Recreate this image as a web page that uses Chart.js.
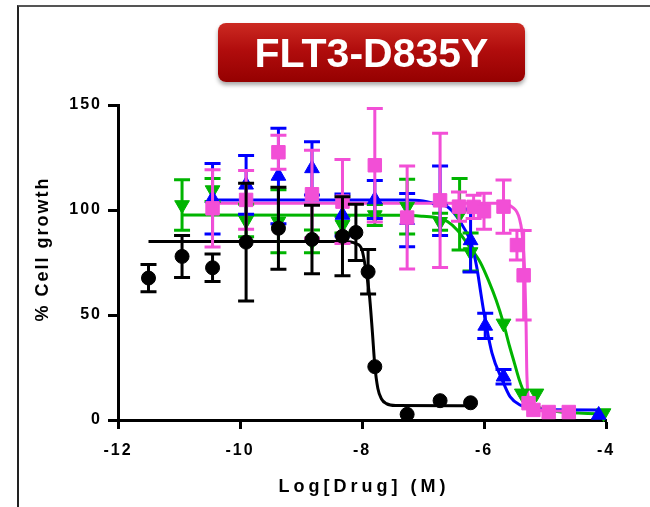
<!DOCTYPE html>
<html>
<head>
<meta charset="utf-8">
<title>FLT3-D835Y</title>
<script src="https://cdn.jsdelivr.net/npm/chart.js@4.4.0/dist/chart.umd.min.js"></script>
<style>
  html, body { margin: 0; padding: 0; background: #fff; }
  #wrap { position: relative; width: 650px; height: 507px; overflow: hidden; }
  #frame { position: absolute; left: 17px; top: 5px; width: 640px; height: 510px;
           border-top: 2px solid #555; border-left: 2px solid #222; }
  #myChart { position: absolute; left: 0; top: 0; }
  #titleBox { position: absolute; left: 218px; top: 23px; width: 307px; height: 59px;
              border-radius: 8px; background: linear-gradient(#cc2a22, #b10d0d 45%, #950000);
              box-shadow: 0 3px 4px rgba(0,0,0,0.35); color: #fff; text-align: center;
              font: bold 41px Arial, "Liberation Sans", sans-serif; line-height: 60px; }
</style>
</head>
<body>
<div id="wrap">
  <div id="frame"></div>
  <canvas id="myChart" width="650" height="507"></canvas>
  <div id="titleBox">FLT3-D835Y</div>
</div>
<script>
// axis ticks and titles
const xTicks = [-12, -10, -8, -6, -4];
const yTicks = [0, 50, 100, 150];
const xTitle = 'Log[Drug] (M)';
const yTitle = '% Cell growth';

// measured points (mean, +/- error)
const blackX = [-11.5, -10.95, -10.45, -9.9, -9.37, -8.82, -8.32, -8.1, -7.9, -7.79, -7.26, -6.72, -6.22];
const blackY = [67.6, 77.9, 72.5, 84.7, 91.3, 86, 87.5, 89.3, 70.6, 25.4, 2.7, 9.2, 8.2];
const blackErr = [6.5, 10, 6.6, 28, 19.5, 16.3, 18.8, 13.4, 10.6, 0, 0, 0, 0];

const blueX = [-10.45, -9.9, -9.37, -8.82, -8.32, -7.79, -7.26, -6.72, -6.22, -5.98, -5.68, -4.12];
const blueY = [105.4, 112, 116.2, 119.8, 97.6, 105, 95.2, 104.4, 85.5, 44.8, 20.6, 2.4];
const blueErr = [16.8, 14, 22.7, 12.7, 10, 9, 12.7, 16.6, 15, 6, 3.5, 0];

const greenX = [-10.95, -10.45, -9.9, -9.37, -8.82, -8.32, -7.79, -7.26, -6.72, -6.4, -6.22, -5.68, -5.38, -5.14, -4.04];
const greenY = [102.4, 109.5, 95, 94.6, 85.1, 93, 97.6, 101.6, 94.4, 98, 80, 46, 12.7, 12.7, 3.3];
const greenErr = [12, 5.5, 7.7, 15, 5.4, 4, 5, 13, 4, 17, 9, 0, 0, 0, 0];

const pinkX = [-10.45, -9.9, -9.37, -8.82, -8.32, -7.79, -7.26, -6.72, -6.41, -6.17, -6.0, -5.68, -5.46, -5.35, -5.27, -5.19, -4.94, -4.61];
const pinkY = [100.8, 104.8, 127.5, 107.5, 104, 121.3, 96.4, 104.6, 101.6, 101.5, 99.4, 101.6, 83.3, 68.9, 8, 4.8, 3.8, 3.8];
const pinkErr = [18.4, 14, 8.1, 21, 20, 27, 24.5, 32, 7, 5.5, 8.6, 12.7, 7.1, 21.3, 0, 0, 0, 0];

// fitted curves
const blackCurveX = [-11.5, -8.3, -8.1, -8.0, -7.94, -7.88, -7.83, -7.79, -7.74, -7.68, -7.6, -7.45, -6.15];
const blackCurveY = [85, 85, 84, 81, 72, 60, 42, 26, 15, 10, 7.8, 6.9, 6.8];

const blueCurveX = [-10.45, -7.3, -7.0, -6.8, -6.6, -6.45, -6.32, -6.22, -6.12, -6.05, -6.0, -5.87, -5.7, -5.57, -5.4, -5.24, -4.9, -4.1];
const blueCurveY = [104.8, 104.8, 104.3, 103, 101.5, 97, 91, 85, 73, 60, 51, 32, 19, 11, 7, 5.5, 4.9, 4.8];

const greenCurveX = [-10.95, -7.3, -7.0, -6.77, -6.6, -6.44, -6.25, -6.06, -5.92, -5.8, -5.68, -5.58, -5.5, -5.42, -5.34, -5.25, -5.1, -4.8, -4.05];
const greenCurveY = [97.6, 97.5, 97, 96.3, 94.5, 90.5, 83, 75, 66, 57, 46, 35, 27, 19, 13, 9, 6, 4, 2.9];

const pinkCurveX = [-10.45, -5.75, -5.6, -5.52, -5.46, -5.42, -5.38, -5.35, -5.33, -5.31, -5.3, -5.28, -5.25, -5.18, -5.0, -4.6];
const pinkCurveY = [103.2, 103.2, 102.6, 101, 99, 96, 90, 80, 68, 45, 25, 12, 7, 5, 4.4, 4.3];

const BLACK = '#000000', BLUE = '#0000ff', GREEN = '#00b400', PINK = '#f24fd6';

function pts(xs, ys) {
  return xs.map((x, i) => ({ x: x, y: ys[i] }));
}

function markers(xs, ys, errs, color, style, radius, rotation) {
  return {
    data: pts(xs, ys),
    errors: errs,
    pointStyle: style,
    pointRadius: radius,
    rotation: rotation || 0,
    backgroundColor: color,
    borderColor: color,
    borderWidth: 1,
    clip: false
  };
}

function curve(xs, ys, color) {
  return {
    data: pts(xs, ys),
    showLine: true,
    pointRadius: 0,
    borderColor: color,
    borderWidth: 3,
    cubicInterpolationMode: 'monotone',
    clip: false
  };
}

// error bars are drawn right before each marker dataset
const errorBars = {
  id: 'errorBars',
  beforeDatasetDraw(chart, args) {
    const ds = chart.data.datasets[args.index];
    if (!ds.errors) return;
    const ctx = chart.ctx;
    const xs = chart.scales.x, ys = chart.scales.y;
    ctx.save();
    ctx.strokeStyle = ds.borderColor;
    ctx.lineWidth = 3;
    ds.data.forEach(function (p, i) {
      const e = ds.errors[i];
      if (!e) return;
      const px = xs.getPixelForValue(p.x);
      const top = ys.getPixelForValue(p.y + e);
      const bot = ys.getPixelForValue(p.y - e);
      ctx.beginPath();
      ctx.moveTo(px, top); ctx.lineTo(px, bot);
      ctx.moveTo(px - 8, top); ctx.lineTo(px + 8, top);
      ctx.moveTo(px - 8, bot); ctx.lineTo(px + 8, bot);
      ctx.stroke();
    });
    ctx.restore();
  }
};

const axisText = {
  id: 'axisText',
  beforeDraw(chart) {
    chart.ctx.letterSpacing = '2px';
  },
  afterDraw(chart) {
    const ctx = chart.ctx;
    const area = chart.chartArea;
    ctx.save();
    ctx.fillStyle = '#000';
    ctx.font = 'bold 18px Arial, "Liberation Sans", sans-serif';
    ctx.textAlign = 'center';
    ctx.textBaseline = 'middle';
    ctx.letterSpacing = '4px';
    ctx.fillText(xTitle, (area.left + area.right) / 2 + 2, 487);
    ctx.translate(43, 250);
    ctx.rotate(-Math.PI / 2);
    ctx.letterSpacing = '2px';
    ctx.fillText(yTitle, 1, 0);
    ctx.restore();
  }
};

const tickFont = { family: 'Arial, "Liberation Sans", sans-serif', size: 16, weight: 'bold' };

const config = {
  type: 'scatter',
  data: {
    datasets: [
      markers(blackX, blackY, blackErr, BLACK, 'circle', 7),
      markers(pinkX, pinkY, pinkErr, PINK, 'rect', 9.5),
      markers(blueX, blueY, blueErr, BLUE, 'triangle', 8.5),
      markers(greenX, greenY, greenErr, GREEN, 'triangle', 8.5, 180),
      curve(blackCurveX, blackCurveY, BLACK),
      curve(pinkCurveX, pinkCurveY, PINK),
      curve(blueCurveX, blueCurveY, BLUE),
      curve(greenCurveX, greenCurveY, GREEN)
    ]
  },
  options: {
    responsive: false,
    animation: false,
    events: [],
    layout: { padding: { left: 0, top: 105, right: 44, bottom: 0 } },
    plugins: { legend: { display: false }, tooltip: { enabled: false } },
    scales: {
      x: {
        type: 'linear',
        min: -12,
        max: -4,
        afterBuildTicks: function (s) { s.ticks = xTicks.map(v => ({ value: v })); },
        afterFit: function (s) { s.height = 87; },
        grid: { drawOnChartArea: false, drawTicks: true, tickLength: 9, tickWidth: 3, tickColor: '#000' },
        border: { display: true, color: '#000', width: 3 },
        ticks: { color: '#000', font: tickFont, padding: 12, maxRotation: 0, autoSkip: false }
      },
      y: {
        type: 'linear',
        min: 0,
        max: 150,
        afterBuildTicks: function (s) { s.ticks = yTicks.map(v => ({ value: v })); },
        afterFit: function (s) { s.width = 118; },
        grid: { drawOnChartArea: false, drawTicks: true, tickLength: 10, tickWidth: 3, tickColor: '#000' },
        border: { display: true, color: '#000', width: 3 },
        ticks: { color: '#000', font: tickFont, padding: 6 }
      }
    }
  },
  plugins: [errorBars, axisText]
};

const myChart = new Chart(document.getElementById('myChart'), config);
</script>
</body>
</html>
